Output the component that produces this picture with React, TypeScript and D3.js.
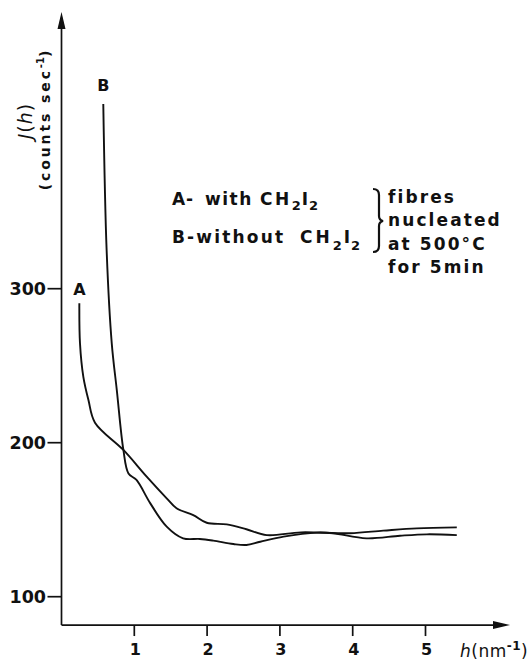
import React from "react";
import * as d3 from "d3";

const curveA_h = [0.245, 0.254, 0.3, 0.37, 0.46, 0.85, 1.17, 1.445, 1.58, 1.81, 1.995, 2.27, 2.54, 2.82, 3.29, 3.96, 4.42, 4.88, 5.43];
const curveA_v = [290.5, 264.6, 242.8, 227.7, 213, 195.3, 178, 163.9, 157.4, 153, 148, 147, 143.8, 140, 141.8, 141.2, 142.9, 144.4, 145];
const curveB_h = [0.574, 0.62, 0.69, 0.76, 0.85, 0.92, 1.03, 1.22, 1.445, 1.67, 1.9, 2.085, 2.36, 2.54, 2.73, 3.05, 3.51, 3.73, 4.19, 4.65, 5.02, 5.43];
const curveB_v = [420, 325, 264.7, 234, 195.3, 180, 175.8, 160.6, 145.5, 137.9, 137.5, 136.4, 134.2, 133.6, 135.7, 139, 141.6, 141.2, 137.9, 139.6, 140.5, 140];
const xTicks = [1, 2, 3, 4, 5];
const yTicks = [100, 200, 300];
const noteLines = ["fibres", "nucleated", "at 500°C", "for 5min"];

const FONT = "'DejaVu Sans', 'Liberation Sans', Arial, sans-serif";

export default function App() {
  const x = d3.scaleLinear().domain([0, 6]).range([61.5, 498.3]);
  const y = d3.scaleLinear().domain([100, 400]).range([596.7, 134.7]);
  const line = d3
    .line<[number, number]>()
    .x((d) => x(d[0]))
    .y((d) => y(d[1]))
    .curve(d3.curveCatmullRom.alpha(0.5));
  const dataA: [number, number][] = curveA_h.map((h, i) => [h, curveA_v[i]]);
  const dataB: [number, number][] = curveB_h.map((h, i) => [h, curveB_v[i]]);
  const x0 = x(0);
  const yBottom = y(81.6);
  const yTop = 12;
  const xRight = 510;
  const ts = { fontFamily: FONT, fontWeight: 700, fill: "#111" } as const;
  return (
    <svg width={530} height={670} style={{ position: "absolute", left: 0, top: 0, background: "#fff" }}>
      {/* axes */}
      <line x1={x0} y1={yBottom} x2={x0} y2={yTop + 10} stroke="#111" strokeWidth={1.7} />
      <path d={`M${x0},${yTop} L${x0 - 4},${yTop + 17} L${x0 + 4},${yTop + 17} Z`} fill="#111" />
      <line x1={x0} y1={yBottom} x2={xRight - 10} y2={yBottom} stroke="#111" strokeWidth={1.7} />
      <path d={`M${xRight},${yBottom} L${xRight - 17},${yBottom - 4} L${xRight - 17},${yBottom + 4} Z`} fill="#111" />
      {yTicks.map((t) => (
        <g key={t}>
          <line x1={x0 - 14} x2={x0} y1={y(t)} y2={y(t)} stroke="#111" strokeWidth={1.7} />
          <text x={46} y={y(t) + 6.5} textAnchor="end" fontSize={17.5} style={ts}>
            {t}
          </text>
        </g>
      ))}
      {xTicks.map((t) => (
        <g key={t}>
          <line x1={x(t)} x2={x(t)} y1={yBottom} y2={yBottom + 11} stroke="#111" strokeWidth={1.7} />
          <text x={x(t) + 1} y={yBottom + 30} textAnchor="middle" fontSize={16} style={ts}>
            {t}
          </text>
        </g>
      ))}
      <text x={460} y={657} fontSize={17} letterSpacing={0.5} style={{ ...ts, fontWeight: 400 }}>
        <tspan fontStyle="italic">h</tspan>
        <tspan>(nm</tspan>
        <tspan dy={-7} fontSize={12} fontWeight={700}>-1</tspan>
        <tspan dy={7}>)</tspan>
      </text>
      {/* y label */}
      <g transform="translate(32,121) rotate(-90)">
        <text x={0} y={0} textAnchor="middle" fontSize={19} letterSpacing={1} style={{ ...ts, fontWeight: 400 }}>
          <tspan fontStyle="italic">J</tspan>(<tspan fontStyle="italic">h</tspan>)
        </text>
      </g>
      <g transform="translate(50,119) rotate(-90)">
        <text x={0} y={0} textAnchor="middle" fontSize={14} letterSpacing={2.9} style={ts}>
          (counts sec<tspan dy={-6} fontSize={10} letterSpacing={0}>-1</tspan>
          <tspan dy={6}>)</tspan>
        </text>
      </g>
      {/* curves */}
      <path d={line(dataA) || ""} fill="none" stroke="#111" strokeWidth={1.9} />
      <path d={line(dataB) || ""} fill="none" stroke="#111" strokeWidth={1.9} />
      <text x={x(0.245)} y={295} textAnchor="middle" fontSize={16} style={ts}>A</text>
      <text x={x(0.574)} y={91} textAnchor="middle" fontSize={16} style={ts}>B</text>
      {/* legend */}
      <text y={205} fontSize={17} style={ts}>
        <tspan x={172}>A</tspan>
        <tspan x={186}>-</tspan>
        <tspan x={205} letterSpacing={1.5}>with</tspan>
        <tspan x={260} letterSpacing={2.5}>CH</tspan>
        <tspan dy={5} fontSize={13}>2</tspan>
        <tspan dy={-5} dx={1}>I</tspan>
        <tspan dy={5} fontSize={13} dx={1}>2</tspan>
      </text>
      <text y={243} fontSize={17} style={ts}>
        <tspan x={172}>B</tspan>
        <tspan x={187} letterSpacing={2.2}>-without</tspan>
        <tspan x={300} letterSpacing={3}>CH</tspan>
        <tspan dy={7} fontSize={13}>2</tspan>
        <tspan dy={-7} dx={2}>I</tspan>
        <tspan dy={7} fontSize={13} dx={1}>2</tspan>
      </text>
      <path
        d="M373,189 Q379,189 379,195 L379,216 Q379,220 383,221 Q379,222 379,226 L379,246 Q379,252 373,252"
        fill="none"
        stroke="#111"
        strokeWidth={2.2}
      />
      {noteLines.map((s, i) => (
        <text key={s} x={388} y={203 + i * 23.3} fontSize={17} letterSpacing={2.1} style={ts}>
          {s}
        </text>
      ))}
    </svg>
  );
}
